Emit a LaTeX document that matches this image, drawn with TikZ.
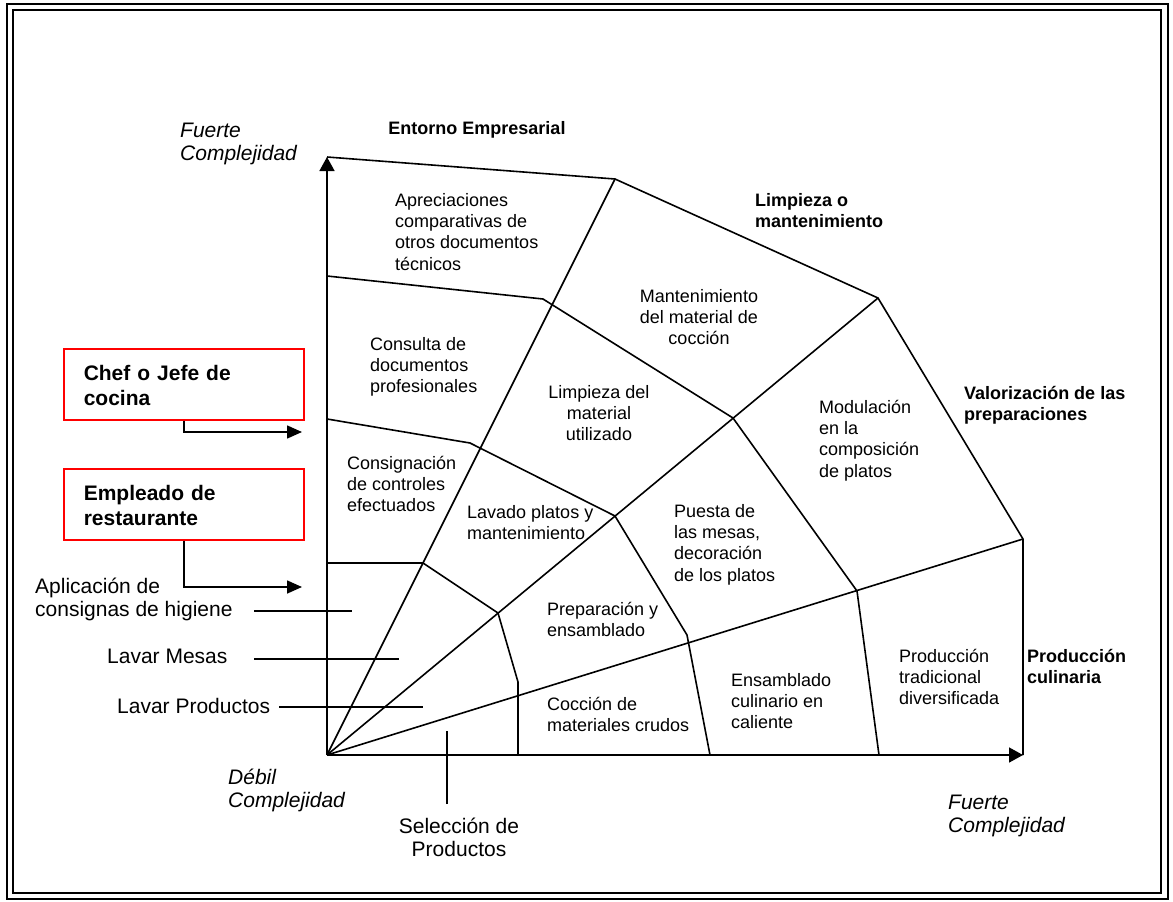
\documentclass[tikz,border=0pt]{standalone}
\usepackage{fontspec}
\setmainfont{Liberation Sans}
\usetikzlibrary{arrows.meta}

% font sizes (one unit = 1pt)
\newcommand\cellfont{\fontsize{18}{21.3}\selectfont}
\newcommand\sidefont{\fontsize{21}{23.5}\selectfont}
\newcommand\rolefont{\fontsize{21}{25}\selectfont\bfseries}

\tikzset{
  frame/.style={line width=2pt},
  edge/.style={line width=1.6pt, line join=miter},
  axis/.style={line width=1.6pt, -{Triangle[length=14pt,width=15pt]}},
  cell/.style={inner sep=0pt, font=\cellfont, align=left, anchor=north west, yshift=14.91pt},
  cellc/.style={cell, align=center, anchor=north},
  sector/.style={cell, font=\cellfont\bfseries},
  sectorc/.style={sector, align=center, anchor=north},
  side/.style={inner sep=0pt, font=\sidefont, align=left, anchor=north west, yshift=16.45pt},
  sidec/.style={side, align=center, anchor=north},
  pole/.style={side, font=\sidefont\itshape},
  role/.style={draw=red, line width=1.5pt, font=\rolefont, align=left,
    text width=200pt, inner xsep=20pt, inner ysep=0pt,
    minimum height=71pt, anchor=north west},
  roleflow/.style={line width=1.6pt, -{Triangle[length=15pt,width=13pt]}},
  pointer/.style={line width=1.6pt},
}

\begin{document}
\begin{tikzpicture}[x=1pt,y=-1pt]
\useasboundingbox (0,0) rectangle (1173,902);

% double frame
\draw[frame] (7,4) rectangle (1168,899);
\draw[frame] (13,10) rectangle (1161,893);

% main points of the map
\coordinate (O) at (327,755);
\coordinate (Ytop) at (327,157);
\coordinate (Xend) at (1023,755);
\coordinate (P2) at (615,179);
\coordinate (P3) at (878,298);
\coordinate (P4) at (1023,539);

% inner ring
\coordinate (A0) at (327,563);
\coordinate (A1) at (423,563);
\coordinate (A2) at (498,613);
\coordinate (A3) at (518,682);
\coordinate (A4) at (518,755);
% middle ring
\coordinate (B0) at (327,419);
\coordinate (B1) at (470,443);
\coordinate (B2) at (615,516);
\coordinate (B3) at (687,635);
\coordinate (B4) at (710,755);
% outer ring
\coordinate (C0) at (327,276);
\coordinate (C1) at (543,299);
\coordinate (C2) at (733,418);
\coordinate (C3) at (857,591);
\coordinate (C4) at (879,755);

% axes
\draw[axis] (O) -- (Ytop);
\draw[axis] (O) -- (Xend);

% outline and radial lines
\draw[edge] (Ytop) -- (P2) -- (P3) -- (P4) -- (Xend);
\draw[edge] (O) -- (P2);
\draw[edge] (O) -- (P3);
\draw[edge] (O) -- (P4);

% rings
\draw[edge] (A0) -- (A1) -- (A2) -- (A3) -- (A4);
\draw[edge] (B0) -- (B1) -- (B2) -- (B3) -- (B4);
\draw[edge] (C0) -- (C1) -- (C2) -- (C3) -- (C4);

% axis poles
\node[pole] (fuerteY) at (180,137) {\strut Fuerte\\Complejidad};
\node[pole] (debil) at (228,784) {\strut D\'ebil\\Complejidad};
\node[pole] (fuerteX) at (948,809) {\strut Fuerte\\Complejidad};

% sector titles
\node[sectorc] (entorno) at (477,134) {\strut Entorno Empresarial};
\node[sector] (limpieza) at (755,206) {\strut Limpieza o\\mantenimiento};
\node[sector] (valor) at (964,399) {\strut Valorizaci\'on de las\\preparaciones};
\node[sector] (produccion) at (1027,662) {\strut Producci\'on\\culinaria};

% cells
\node[cell] (apreciaciones) at (395,206) {\strut Apreciaciones\\comparativas de\\otros documentos\\t\'ecnicos};
\node[cell] (consulta) at (370,350) {\strut Consulta de\\documentos\\profesionales};
\node[cellc] (mantmat) at (699,302) {\strut Mantenimiento\\del material de\\cocci\'on};
\node[cellc] (limpmat) at (599,398) {\strut Limpieza del\\material\\utilizado};
\node[cell] (consignacion) at (347,469) {\strut Consignaci\'on\\de controles\\efectuados};
\node[cell] (lavado) at (467,518) {\strut Lavado platos y\\mantenimiento};
\node[cell] (puesta) at (674,517) {\strut Puesta de\\las mesas,\\decoraci\'on\\de los platos};
\node[cell] (modulacion) at (819,413) {\strut Modulaci\'on\\en la\\composici\'on\\de platos};
\node[cell] (preparacion) at (547,615) {\strut Preparaci\'on y\\ensamblado};
\node[cell] (coccion) at (547,710) {\strut Cocci\'on de\\materiales crudos};
\node[cell] (ensamblado) at (731,686) {\strut Ensamblado\\culinario en\\caliente};
\node[cell] (tradicional) at (899,662) {\strut Producci\'on\\tradicional\\diversificada};

% roles
\node[role] (chef) at (63,348) {\strut Chef o Jefe de\\cocina};
\node[role] (empleado) at (63,468) {\strut Empleado de\\restaurante};
\coordinate (chefto) at (302,432);
\coordinate (empto) at (302,587);
\draw[roleflow] (chef.south) |- (chefto);
\draw[roleflow] (empleado.south) |- (empto);

% tasks of the inner sector
\node[side] (aplicacion) at (35,593) {\strut Aplicaci\'on de\\consignas de higiene};
\node[side] (mesas) at (107,663) {\strut Lavar Mesas};
\node[side] (productos) at (117,713) {\strut Lavar Productos};
\node[sidec] (seleccion) at (459,833) {\strut Selecci\'on de\\Productos};

\coordinate (apl0) at (254,611);
\coordinate (apl1) at (352,611);
\coordinate (mes0) at (254,659);
\coordinate (mes1) at (399,659);
\coordinate (pro0) at (279,707);
\coordinate (pro1) at (423,707);
\coordinate (sel0) at (447,804);
\coordinate (sel1) at (447,731);
\draw[pointer] (apl0) -- (apl1);
\draw[pointer] (mes0) -- (mes1);
\draw[pointer] (pro0) -- (pro1);
\draw[pointer] (sel0) -- (sel1);
\end{tikzpicture}
\end{document}
